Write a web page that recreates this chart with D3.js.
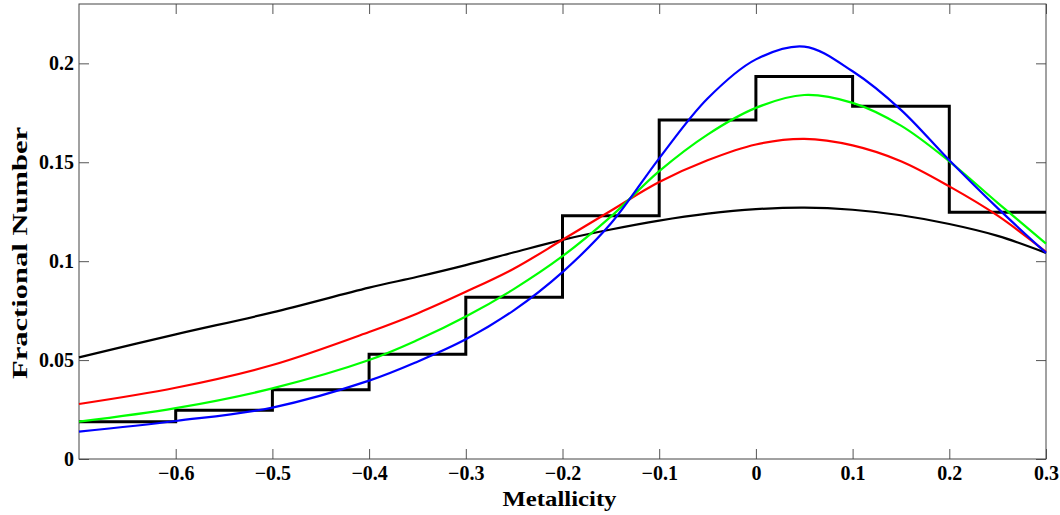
<!DOCTYPE html>
<html>
<head>
<meta charset="utf-8">
<script src="https://cdn.jsdelivr.net/npm/d3@7"></script>
<style>
  body { margin: 0; background: #fff; }
  svg text { font-family: "Liberation Serif", "Times New Roman", serif; font-weight: bold; fill: #000; }
  .axis path { display: none; }
  .axis line { stroke: #555; }
</style>
</head>
<body>
<script>
// histogram bins (left edges) and fractional numbers
var binEdges = [-0.7, -0.6, -0.5, -0.4, -0.3, -0.2, -0.1, 0, 0.1, 0.2, 0.3];
var binValues = [0.0188, 0.0247, 0.0350, 0.0530, 0.0818, 0.1230, 0.1714, 0.1934, 0.1783, 0.1247];

// fitted curves
var curveX = [-0.7, -0.6, -0.5, -0.4, -0.35, -0.3, -0.25, -0.2, -0.15, -0.1, -0.05, 0, 0.05, 0.1, 0.15, 0.2, 0.25, 0.3];
var blackCurve = [0.0514, 0.0630, 0.0741, 0.0866, 0.0921, 0.0980, 0.1045, 0.1108, 0.1160, 0.1205, 0.1240, 0.1263, 0.1271, 0.1260, 0.1232, 0.1188, 0.1128, 0.1042];
var redCurve   = [0.0278, 0.0360, 0.0475, 0.0642, 0.0736, 0.0845, 0.0963, 0.1108, 0.1255, 0.1400, 0.1510, 0.1590, 0.1618, 0.1585, 0.1505, 0.1378, 0.1230, 0.1047];
var greenCurve = [0.0189, 0.0257, 0.0357, 0.0500, 0.0601, 0.0720, 0.0860, 0.1025, 0.1225, 0.1455, 0.1640, 0.1775, 0.1840, 0.1800, 0.1685, 0.1505, 0.1295, 0.1089];
var blueCurve  = [0.0138, 0.0192, 0.0260, 0.0396, 0.0492, 0.0605, 0.0753, 0.0945, 0.1190, 0.1520, 0.1822, 0.2020, 0.2085, 0.1960, 0.1765, 0.1510, 0.1268, 0.1042];

var xTicks = [-0.6, -0.5, -0.4, -0.3, -0.2, -0.1, 0, 0.1, 0.2, 0.3];
var yTicks = [0, 0.05, 0.1, 0.15, 0.2];

var W = 1060, H = 515;
var margin = {top: 4, right: 14, bottom: 56, left: 79};
var width = W - margin.left - margin.right;
var height = H - margin.top - margin.bottom;

var svg = d3.select("body").append("svg").attr("width", W).attr("height", H)
  .append("g").attr("transform", "translate(" + margin.left + "," + margin.top + ")");

var x = d3.scaleLinear().domain([-0.7, 0.3]).range([0, width]);
var y = d3.scaleLinear().domain([0, 0.23]).range([height, 0]);

var fmt = function(d) { return d3.format("")(+d.toFixed(2)); };

// axes: inward ticks on all four sides
svg.append("g").attr("class", "axis").attr("transform", "translate(0," + height + ")")
  .call(d3.axisBottom(x).tickValues(xTicks).tickSizeInner(-10).tickSizeOuter(0).tickPadding(7).tickFormat(fmt))
  .selectAll("text").style("font-size", "20px");
svg.append("g").attr("class", "axis")
  .call(d3.axisTop(x).tickValues(xTicks).tickSizeInner(-10).tickSizeOuter(0).tickFormat(""));
svg.append("g").attr("class", "axis")
  .call(d3.axisLeft(y).tickValues(yTicks).tickSizeInner(-10).tickSizeOuter(0).tickPadding(5).tickFormat(fmt))
  .selectAll("text").style("font-size", "20px");
svg.append("g").attr("class", "axis").attr("transform", "translate(" + width + ",0)")
  .call(d3.axisRight(y).tickValues(yTicks).tickSizeInner(-10).tickSizeOuter(0).tickFormat(""));

svg.selectAll(".axis text").attr("fill", "#000");

// frame
svg.append("rect").attr("x", 0).attr("y", 0).attr("width", width).attr("height", height)
  .attr("fill", "none").attr("stroke", "#444").attr("stroke-width", 1);

// histogram as a step line
var histPts = binValues.map(function(v, i) { return [binEdges[i], v]; });
histPts.push([binEdges[binEdges.length - 1], binValues[binValues.length - 1]]);
var stepLine = d3.line().x(function(d) { return x(d[0]); }).y(function(d) { return y(d[1]); })
  .curve(d3.curveStepAfter);
svg.append("path").datum(histPts).attr("d", stepLine)
  .attr("fill", "none").attr("stroke", "#000").attr("stroke-width", 3);

// curves
var smooth = d3.line().x(function(d) { return x(d[0]); }).y(function(d) { return y(d[1]); })
  .curve(d3.curveCatmullRom.alpha(0.5));
var series = [
  {vals: blackCurve, color: "#000000"},
  {vals: redCurve, color: "#ff0000"},
  {vals: greenCurve, color: "#00ff00"},
  {vals: blueCurve, color: "#0000ff"}
];
series.forEach(function(s) {
  var pts = curveX.map(function(cx, i) { return [cx, s.vals[i]]; });
  svg.append("path").datum(pts).attr("d", smooth)
    .attr("fill", "none").attr("stroke", s.color).attr("stroke-width", 2.2);
});

// axis titles
svg.append("text")
  .attr("x", x(-0.2) - 3).attr("y", 506 - margin.top)
  .attr("text-anchor", "middle")
  .attr("textLength", 114).attr("lengthAdjust", "spacingAndGlyphs")
  .style("font-size", "22px")
  .text("Metallicity");

svg.append("text")
  .attr("transform", "translate(" + (27 - margin.left) + "," + (253 - margin.top) + ")rotate(-90)")
  .attr("text-anchor", "middle")
  .attr("textLength", 252).attr("lengthAdjust", "spacingAndGlyphs")
  .style("font-size", "22px")
  .text("Fractional Number");
</script>
</body>
</html>
